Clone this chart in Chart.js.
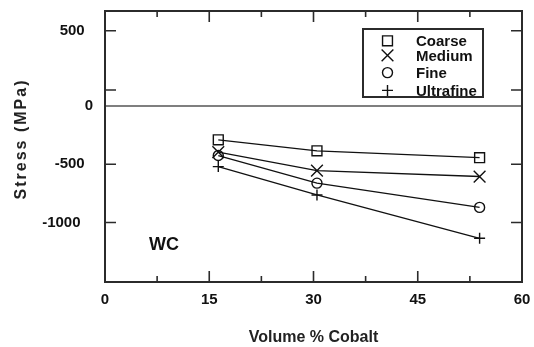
<!DOCTYPE html>
<html>
<head>
<meta charset="utf-8">
<script src="https://cdn.jsdelivr.net/npm/chart.js@4.4.0/dist/chart.umd.min.js"></script>
<style>
  html, body { margin: 0; padding: 0; background: #fff; }
  canvas { display: block; }
</style>
</head>
<body>
<canvas id="stressChart" width="534" height="347"></canvas>
<script>
// data
const cobaltVolume = [16.3, 30.5, 53.9];
const seriesNames = ['Coarse', 'Medium', 'Fine', 'Ultrafine'];
const coarseStress = [-290, -385, -443];
const mediumStress = [-395, -554, -605];
const fineStress = [-425, -662, -870];
const ultrafineStress = [-520, -763, -1135];

const xTickValues = [0, 15, 30, 45, 60];
const xMinorTicks = [7.5, 22.5, 37.5, 52.5];
// the original axis is labelled oddly: the "500" mark sits higher than 500
const yTickValues = [-1000, -500, 0, 137, 645];
const yTickLabels = ['-1000   ', '-500  ', '0', '', '500  '];

const ink = '#111';
const frameColor = '#2b2b2b';

const seriesStress = [coarseStress, mediumStress, fineStress, ultrafineStress];
const markerStyles = ['rect', 'crossRot', 'circle', 'cross'];
const markerSizes = [7, 8.3, 5, 5.5];

const datasets = seriesNames.map((name, i) => ({
    label: name,
    data: cobaltVolume.map((x, j) => ({ x: x, y: seriesStress[i][j] })),
    borderColor: ink,
    borderWidth: 1.3,
    pointStyle: markerStyles[i],
    pointRadius: markerSizes[i],
    pointBorderColor: ink,
    pointBorderWidth: 1.4,
    pointBackgroundColor: 'rgba(0,0,0,0)',
    tension: 0,
    fill: false
}));

// zero line, inward ticks, frame, legend box and labels
const decorations = {
    id: 'decorations',
    beforeDatasetsDraw(chart) {
        const { ctx, chartArea: a, scales } = chart;
        const y0 = scales.y.getPixelForValue(0);
        ctx.save();
        ctx.strokeStyle = '#555';
        ctx.lineWidth = 1.6;
        ctx.beginPath();
        ctx.moveTo(a.left, y0);
        ctx.lineTo(a.right, y0);
        ctx.stroke();
        ctx.restore();
    },
    afterDatasetsDraw(chart) {
        const { ctx, chartArea: a, scales } = chart;
        ctx.save();
        ctx.strokeStyle = frameColor;
        ctx.lineWidth = 1.6;

        // x ticks, bottom and top
        const xTick = (v, len) => {
            const px = scales.x.getPixelForValue(v);
            ctx.beginPath();
            ctx.moveTo(px, a.bottom);
            ctx.lineTo(px, a.bottom - len);
            ctx.moveTo(px, a.top);
            ctx.lineTo(px, a.top + len);
            ctx.stroke();
        };
        xTickValues.forEach(v => xTick(v, 11));
        xMinorTicks.forEach(v => xTick(v, 6));

        // y ticks, left and right
        yTickValues.forEach(v => {
            if (v === 0) return;
            const py = scales.y.getPixelForValue(v);
            ctx.beginPath();
            ctx.moveTo(a.left, py);
            ctx.lineTo(a.left + 11, py);
            ctx.moveTo(a.right, py);
            ctx.lineTo(a.right - 11, py);
            ctx.stroke();
        });

        // frame
        ctx.lineWidth = 2;
        ctx.strokeRect(a.left, a.top, a.right - a.left, a.bottom - a.top);

        // legend
        ctx.strokeRect(363, 29, 120, 68);
        const rows = [40.8, 55.4, 72.6, 90.4];
        ctx.font = 'bold 15px "Liberation Sans", Arial, sans-serif';
        ctx.textBaseline = 'middle';
        ctx.textAlign = 'left';
        chart.data.datasets.forEach((ds, i) => {
            ctx.strokeStyle = ink;
            ctx.fillStyle = 'rgba(0,0,0,0)';
            ctx.lineWidth = 1.4;
            Chart.helpers.drawPoint(ctx, {
                pointStyle: ds.pointStyle,
                radius: ds.pointRadius,
                rotation: 0,
                borderWidth: 1.4
            }, 387.5, rows[i]);
            ctx.fillStyle = ink;
            ctx.fillText(ds.label, 416, rows[i] + 1);
        });

        // specimen label
        ctx.font = 'bold 18px "Liberation Sans", Arial, sans-serif';
        ctx.fillText('WC', 149, 245);
        ctx.restore();
    },
    afterDraw(chart) {
        const { ctx } = chart;
        ctx.save();
        ctx.translate(22, 140);
        ctx.rotate(-Math.PI / 2);
        ctx.font = 'bold 16px "Liberation Sans", Arial, sans-serif';
        ctx.letterSpacing = '2px';
        ctx.fillStyle = '#222';
        ctx.textAlign = 'center';
        ctx.textBaseline = 'middle';
        ctx.fillText('Stress (MPa)', 1, 0);
        ctx.restore();
    }
};

const tickFont = { family: '"Liberation Sans", Arial, sans-serif', size: 15, weight: 'bold' };

new Chart(document.getElementById('stressChart'), {
    type: 'line',
    data: { datasets },
    options: {
        responsive: false,
        animation: false,
        events: [],
        layout: { padding: { top: 11, right: 12, left: 0, bottom: 0 } },
        plugins: {
            legend: { display: false },
            tooltip: { enabled: false }
        },
        scales: {
            x: {
                type: 'linear',
                position: 'bottom',
                min: 0,
                max: 60,
                afterBuildTicks: s => { s.ticks = xTickValues.map(v => ({ value: v })); },
                afterFit: s => {
                    s.height = 65;
                    s.paddingLeft = 0;
                    s.paddingRight = 0;
                },
                ticks: { font: tickFont, color: ink, padding: 9, maxRotation: 0, autoSkip: false },
                grid: { display: false, drawTicks: false },
                border: { display: false },
                title: {
                    display: true,
                    text: 'Volume % Cobalt',
                    color: '#222',
                    font: { family: '"Liberation Sans", Arial, sans-serif', size: 16, weight: 'bold' },
                    padding: { top: 4, bottom: 0 }
                }
            },
            y: {
                type: 'linear',
                min: -1510,
                max: 815,
                afterBuildTicks: s => { s.ticks = yTickValues.map(v => ({ value: v })); },
                afterFit: s => {
                    s.width = 105;
                    s.paddingTop = 0;
                    s.paddingBottom = 0;
                },
                ticks: {
                    font: tickFont,
                    color: ink,
                    padding: 12,
                    autoSkip: false,
                    callback: (value, index) => yTickLabels[index]
                },
                grid: { display: false, drawTicks: false },
                border: { display: false }
            }
        }
    },
    plugins: [decorations]
});
</script>
</body>
</html>
